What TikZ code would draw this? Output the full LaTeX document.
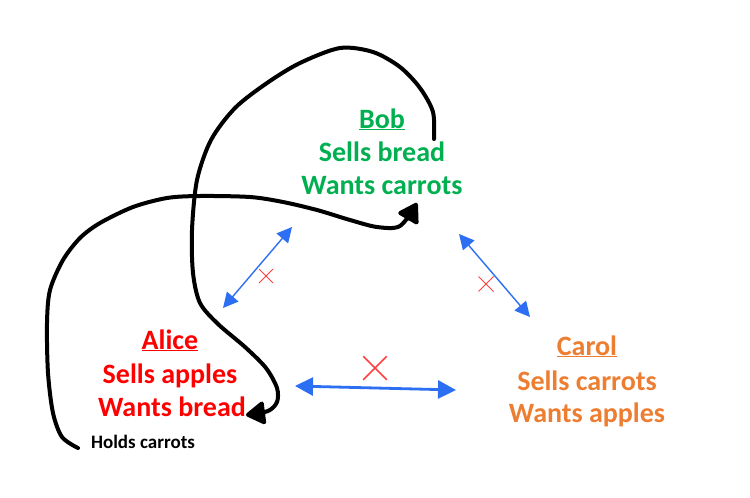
\documentclass[tikz,border=0pt]{standalone}
\usepackage{fontspec}
\setmainfont{Carlito}
\usetikzlibrary{arrows.meta,shapes.misc}
\definecolor{bobgreen}{HTML}{00B050}
\definecolor{alicered}{HTML}{FF0000}
\definecolor{carolorange}{HTML}{ED7D31}
\definecolor{arrowblue}{HTML}{2D6FF2}
\definecolor{xred}{HTML}{FF4040}
\tikzset{
  lbl/.style={anchor=base,inner sep=0pt,font=\fontsize{28}{34}\bfseries\selectfont},
  holds/.style={anchor=base,inner sep=0pt,font=\fontsize{19}{23}\bfseries\selectfont},
  loopline/.style={line width=4pt,line cap=round,line join=round,-{Triangle[length=21pt,width=25pt,round]}},
  thinarrow/.style={arrowblue,line width=1.4pt,{Triangle[length=15pt,width=15pt]}-{Triangle[length=15pt,width=15pt]}},
  thickarrow/.style={arrowblue,line width=2.8pt,{Triangle[length=18pt,width=18pt]}-{Triangle[length=18pt,width=18pt]}},
  nocross/.style={cross out,draw=xred,inner sep=0pt,minimum size=#1},
}
\begin{document}
\begin{tikzpicture}[x=1pt,y=-1pt]
\useasboundingbox (0,0) rectangle (750,498);
% Bob
\node[lbl,text=bobgreen] (bobname) at (382,128) {\underline{Bob}};
\node[lbl,text=bobgreen] (bobsell) at (382,161) {Sells bread};
\node[lbl,text=bobgreen] (bobwant) at (382,194) {Wants carrots};
% Alice
\node[lbl,text=alicered] (alicename) at (170,349) {\underline{Alice}};
\node[lbl,text=alicered] (alicesell) at (170,383) {Sells apples};
\node[lbl,text=alicered] (alicewant) at (172,416) {Wants bread};
% Carol
\node[lbl,text=carolorange] (carolname) at (587,355) {\underline{Carol}};
\node[lbl,text=carolorange] (carolsell) at (587,390) {Sells carrots};
\node[lbl,text=carolorange] (carolwant) at (587,422) {Wants apples};
% Holds carrots
\node[holds] (holds) at (143,448) {Holds carrots};

% blue double arrows
\coordinate (ab1) at (223,308);
\coordinate (ab2) at (292,227);
\coordinate (bc1) at (459,234);
\coordinate (bc2) at (530,317);
\coordinate (ac1) at (295,386);
\coordinate (ac2) at (456,390);
\draw[thinarrow] (ab1) -- (ab2);
\draw[thinarrow] (bc1) -- (bc2);
\draw[thickarrow] (ac1) -- (ac2);
% red crosses
\node[nocross=13pt,line width=1pt] (x1) at (266,276) {};
\node[nocross=14pt,line width=1pt] (x2) at (486,284) {};
\node[nocross=22pt,line width=1.5pt] (x3) at (375,368) {};

% black loops
\coordinate (bobstart) at (434,139);
\coordinate (aliceend) at (246,415);
\draw[loopline] plot[smooth,tension=0.5] coordinates {
  (bobstart) (433,112) (420,88) (400,67) (373,52) (340,48) (300,63)
  (267,83) (235,108) (211,140) (197,180) (192,230)
  (193,273) (200,303) (218,324) (245,347) (266,368) (277,388)
  (277,402) (268,411) (aliceend)};
\coordinate (holdstart) at (78,448);
\coordinate (bobend) at (417,203);
\draw[loopline] plot[smooth,tension=0.5] coordinates {
  (holdstart) (62,437) (53,413) (48,373) (47,323) (50,290) (63,260)
  (80,238) (100,223) (133,207) (167,198) (200,196) (250,197)
  (283,202) (317,210) (350,220) (377,227) (400,226) (bobend)};
\end{tikzpicture}
\end{document}
